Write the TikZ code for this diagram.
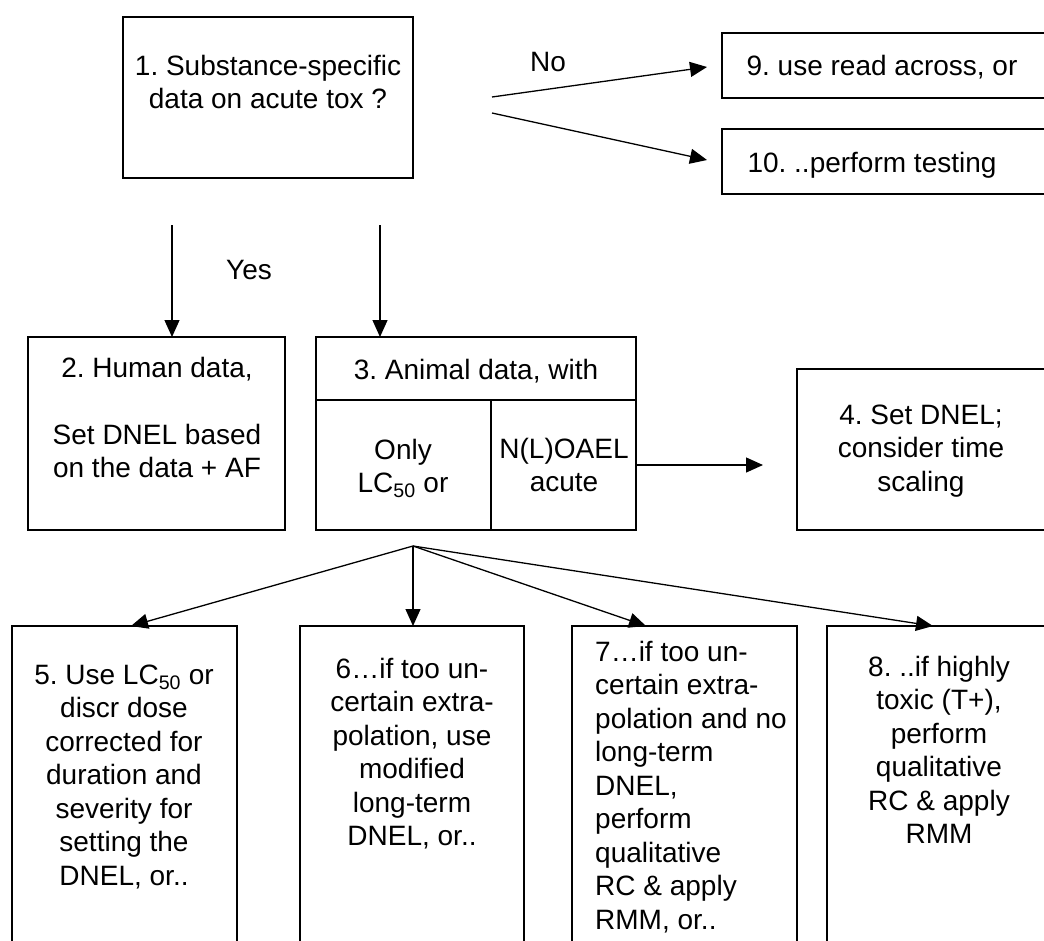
\documentclass[tikz,border=0pt]{standalone}
\usepackage{fontspec}
\setmainfont{Liberation Sans}
\usetikzlibrary{arrows.meta}
\newcommand\myfs{\fontsize{28pt}{33.5pt}\selectfont}
\frenchspacing
\begin{document}
\begin{tikzpicture}[x=1pt,y=-1pt,
  box/.style={draw, line width=1.8pt, inner sep=0pt, outer sep=0pt, anchor=north west},
  txt/.style={font=\myfs, align=center, anchor=base, inner sep=0pt},
  txtl/.style={font=\myfs, align=left, anchor=base west, inner sep=0pt},
  arr/.style={line width=1.3pt, -{Triangle[length=17pt,width=15pt]}}]
\useasboundingbox (0,0) rectangle (1044,940);
\fill[white] (0,0) rectangle (1044,940);
\clip (0,0) rectangle (1044,940);
% boxes
\node[box, minimum width=290pt, minimum height=161pt] (b1) at (123,17) {};
\node[box, minimum width=340pt, minimum height=65pt] (b9) at (722,33) {};
\node[box, minimum width=340pt, minimum height=65pt] (b10) at (722,129) {};
\node[box, minimum width=257pt, minimum height=193pt] (b2) at (28,337) {};
\node[box, minimum width=320pt, minimum height=63pt] (b3h) at (316,337) {};
\node[box, minimum width=175pt, minimum height=130pt] (b3l) at (316,400) {};
\node[box, minimum width=145pt, minimum height=130pt] (b3r) at (491,400) {};
\node[box, minimum width=250pt, minimum height=161pt] (b4) at (797,369) {};
\node[box, minimum width=225pt, minimum height=340pt] (b5) at (12,626) {};
\node[box, minimum width=224pt, minimum height=340pt] (b6) at (300,626) {};
\node[box, minimum width=225pt, minimum height=340pt] (b7) at (572,626) {};
\node[box, minimum width=225pt, minimum height=340pt] (b8) at (827,626) {};
% texts (anchor = baseline of the last line)
\node[txt] (t1) at (268,108.5) {1. Substance-specific\\data on acute tox ?};
\node[txt] (t9) at (882,75) {9. use read across, or};
\node[txt] (t10) at (872,172) {10. ..perform testing};
\node[txt] (no) at (548,71) {No};
\node[txt] (yes) at (249,279) {Yes};
\node[txt] (t2) at (157,477.5) {2. Human data,\\\mbox{}\\Set DNEL based\\on the data + AF};
\node[txt] (t3h) at (476,379) {3. Animal data, with};
\node[txt] (t3l) at (403,492.5) {Only\\LC\textsubscript{50} or};
\node[txt] (t3r) at (564,491.5) {N(L)OAEL\\acute};
\node[txt] (t4) at (921,491) {4. Set DNEL;\\consider time\\scaling};
\node[txt] (t5) at (124,885) {5. Use LC\textsubscript{50} or\\discr dose\\corrected for\\duration and\\severity for\\setting the\\DNEL, or..};
\node[txt] (t6) at (412,845.5) {6…if too un-\\certain extra-\\polation, use\\modified\\long-term\\DNEL, or..};
\node[txtl] (t7) at (595,929) {7…if too un-\\certain extra-\\polation and no\\long-term\\DNEL,\\perform\\qualitative\\RC \& apply\\RMM, or..};
\node[txt] (t8) at (939,843.5) {8. ..if highly\\toxic (T+),\\perform\\qualitative\\RC \& apply\\RMM};
% connectors
\coordinate (n1s) at (492,97);
\coordinate (n1e) at (707,67);
\coordinate (n2s) at (492,113);
\coordinate (n2e) at (707,160);
\draw[arr] (n1s) -- (n1e);
\draw[arr] (n2s) -- (n2e);
\coordinate (d1) at (172,225);
\coordinate (d2) at (380,225);
\draw[arr] (d1) -- (d1 |- b2.north);
\draw[arr] (d2) -- (d2 |- b3h.north);
\coordinate (e4) at (763,465);
\draw[arr] (b3r.east) -- (e4);
\coordinate (fan) at (413,546);
\coordinate (x5) at (131,0);
\coordinate (x6) at (413,0);
\coordinate (x7) at (646,0);
\coordinate (x8) at (933,0);
\draw[arr] (fan) -- (x5 |- b5.north);
\draw[arr] (fan) -- (x6 |- b6.north);
\draw[arr] (fan) -- (x7 |- b7.north);
\draw[arr] (fan) -- (x8 |- b8.north);
\end{tikzpicture}
\end{document}
